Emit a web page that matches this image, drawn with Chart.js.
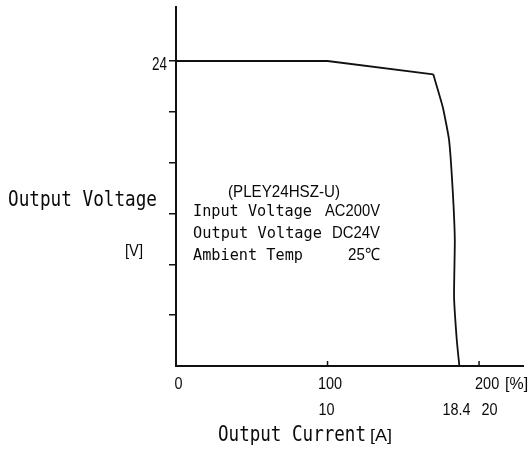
<!DOCTYPE html>
<html>
<head>
<meta charset="utf-8">
<script src="https://cdn.jsdelivr.net/npm/chart.js@4/dist/chart.umd.min.js"></script>
<style>
  body { margin: 0; background: #fff; }
  canvas { display: block; }
</style>
</head>
<body>
<canvas id="curve" width="530" height="449"></canvas>
<script>
// --- data ---
// output current in % of rated (100% = 10 A), output voltage in V
const currentPct = [0, 100, 169.8, 176.0, 180.2, 182.6, 184.0, 183.5, 185.3, 187.0];
const outputV    = [24, 24, 22.95, 20.4, 17.8, 13.85, 9.9, 5.45, 2.05, 0];
const kneeIdx = 2;                 // where the straight part ends and the drop starts

const yTicks = [4, 8, 12, 16, 20, 24];
const yLabelled = [24];
const pctTicks = [0, 100, 200];
const ampTicks = [10, 18.4, 20];   // amps, 10 A = 100 %

const MONO = '"DejaVu Sans Mono", monospace';
const SANS = '"Liberation Sans", Arial, sans-serif';

function toPoints(from, to) {
    const pts = [];
    for (let i = from; i <= to; i++) pts.push({ x: currentPct[i], y: outputV[i] });
    return pts;
}

// draws text squeezed horizontally to a width (or by a fixed factor)
function drawText(ctx, str, x, y, size, family, width, align) {
    ctx.save();
    ctx.font = size + 'px ' + family;
    const w = ctx.measureText(str).width;
    const sx = width ? width / w : 0.85;
    let left = x;
    if (align === 'center') left = x - w * sx / 2;
    if (align === 'right') left = x - w * sx;
    ctx.translate(left, y);
    ctx.scale(sx, 1);
    ctx.fillStyle = '#0a0a0a';
    ctx.textBaseline = 'alphabetic';
    ctx.textAlign = 'left';
    ctx.fillText(str, 0, 0);
    ctx.restore();
}

const textPlugin = {
    id: 'texts',
    afterDraw(chart) {
        const ctx = chart.ctx;
        const xs = chart.scales.x, ys = chart.scales.y;
        const base = ys.getPixelForValue(0);

        // x tick marks pointing up
        ctx.save();
        ctx.strokeStyle = '#111';
        ctx.lineWidth = 1.5;
        pctTicks.slice(1).forEach(p => {
            const px = xs.getPixelForValue(p);
            ctx.beginPath();
            ctx.moveTo(px, base);
            ctx.lineTo(px, base - 5);
            ctx.stroke();
        });
        ctx.restore();

        // y labels
        yLabelled.forEach(v => {
            drawText(ctx, String(v), 167, ys.getPixelForValue(v) + 8.5, 17.5, SANS, 15, 'right');
        });

        // x labels, first row in %
        pctTicks.forEach(p => {
            const px = xs.getPixelForValue(p);
            if (p === 200) {
                drawText(ctx, '200', px - 4, base + 23, 17, SANS);
                drawText(ctx, '[%]', px + 26, base + 23, 17, SANS, 23);
            } else {
                drawText(ctx, String(p), px + 2.5, base + 23, 17, SANS, null, 'center');
            }
        });
        // second row in A
        ampTicks.forEach(a => {
            const px = xs.getPixelForValue(a * 10);
            const dx = a === 20 ? 10.5 : (a === 10 ? -1 : 1.7);
            drawText(ctx, String(a), px + dx, base + 49, 17, SANS, null, 'center');
        });

        // axis titles
        drawText(ctx, 'Output Voltage', 8, 206, 21, MONO, 149);
        drawText(ctx, '[V]', 125, 256, 17, SANS, 18);
        drawText(ctx, 'Output Current', 218, 441, 21, MONO, 148);
        drawText(ctx, '[A]', 370, 441, 17, SANS, 22);

        // conditions box
        drawText(ctx, '(PLEY24HSZ-U)', 228, 197, 17, SANS, 112);
        drawText(ctx, 'Input Voltage', 193, 216, 16, MONO, 119);
        drawText(ctx, 'AC200V', 380, 216, 17, SANS, 55, 'right');
        drawText(ctx, 'Output Voltage', 193, 238, 16, MONO, 129);
        drawText(ctx, 'DC24V', 380, 238, 17, SANS, 48, 'right');
        drawText(ctx, 'Ambient Temp', 193, 260, 16, MONO, 110);
        drawText(ctx, '25℃', 380, 260, 17, SANS, 32, 'right');
    }
};

new Chart(document.getElementById('curve'), {
    type: 'line',
    data: {
        datasets: [
            {
                data: toPoints(0, kneeIdx),
                borderColor: '#111',
                borderWidth: 1.8,
                pointRadius: 0,
                tension: 0
            },
            {
                data: toPoints(kneeIdx, currentPct.length - 1),
                borderColor: '#111',
                borderWidth: 1.8,
                pointRadius: 0,
                tension: 0.15
            }
        ]
    },
    options: {
        responsive: false,
        animation: false,
        clip: false,
        layout: { padding: { top: 7, right: 7, left: 0, bottom: 0 } },
        plugins: { legend: { display: false }, tooltip: { enabled: false } },
        scales: {
            x: {
                type: 'linear',
                min: 0,
                max: 229,
                ticks: { display: false },
                grid: { display: false },
                border: { display: true, color: '#111', width: 2 },
                afterFit: s => { s.height = 83; }
            },
            y: {
                type: 'linear',
                min: 0,
                max: 28.25,
                afterBuildTicks: s => { s.ticks = yTicks.map(v => ({ value: v })); },
                ticks: { display: false },
                grid: {
                    drawOnChartArea: false,
                    drawTicks: true,
                    tickLength: 7,
                    color: '#111',
                    lineWidth: 1.5
                },
                border: { display: true, color: '#111', width: 2 },
                afterFit: s => { s.width = 176; }
            }
        }
    },
    plugins: [textPlugin]
});
</script>
</body>
</html>
